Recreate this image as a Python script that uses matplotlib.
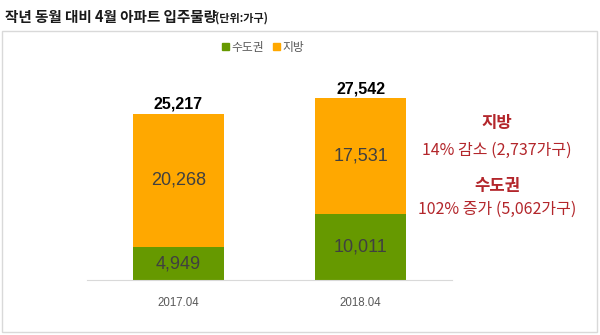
import matplotlib
matplotlib.use("Agg")
import matplotlib.pyplot as plt
from matplotlib.patches import Patch, Rectangle

plt.rcParams['font.family'] = ['Noto Sans CJK KR', 'DejaVu Sans']

categories = ["2017.04", "2018.04"]
metro = [4949, 10011]        # 수도권
regional = [20268, 17531]    # 지방
totals = [25217, 27542]
series_names = ["수도권", "지방"]
title_main = "작년 동월 대비 4월 아파트 입주물량"
title_unit = "(단위:가구)"
notes = [("지방", True), ("14% 감소 (2,737가구)", False),
         ("수도권", True), ("102% 증가 (5,062가구)", False)]

GREEN = "#669900"
ORANGE = "#FFA800"
RED = "#B3262B"
NUM_FONT = ['Liberation Sans', 'DejaVu Sans']

fig = plt.figure(figsize=(6.0, 3.35), dpi=100)
W, H = 600, 335

def fx(px):
    return px / W

def fy(py):
    return 1 - py / H

# outer frame
fig.patches.append(Rectangle((fx(2), fy(332)), fx(595), (330 - 29) / H,
                             transform=fig.transFigure, fill=False,
                             edgecolor="#D9D9D9", linewidth=1.0))

ax = fig.add_axes([fx(87), fy(280), fx(365), 198 / H])
x = list(range(len(categories)))
ax.bar(x, metro, width=0.5, color=GREEN)
ax.bar(x, regional, width=0.5, bottom=metro, color=ORANGE)
ax.set_xlim(-0.5, len(categories) - 0.5)
ax.set_ylim(0, 30000)

for i in x:
    ax.text(i, metro[i] / 2, f"{metro[i]:,}", ha="center", va="center",
            fontsize=13, color="#404040", family=NUM_FONT)
    ax.text(i, metro[i] + regional[i] / 2, f"{regional[i]:,}", ha="center",
            va="center", fontsize=13, color="#404040", family=NUM_FONT)
    ax.text(i, totals[i] + 250, f"{totals[i]:,}", ha="center", va="bottom",
            fontsize=11.5, fontweight="bold", color="black", family=NUM_FONT)

for s in ["top", "right", "left"]:
    ax.spines[s].set_visible(False)
ax.spines["bottom"].set_color("#D9D9D9")
ax.set_yticks([])
ax.set_xticks(x)
ax.set_xticklabels(categories, fontsize=8.3, color="#595959", family=NUM_FONT)
ax.tick_params(axis="x", length=0, pad=12)

handles = [Patch(color=GREEN), Patch(color=ORANGE)]
fig.legend(handles, series_names, loc="center", bbox_to_anchor=(fx(263), fy(47)),
           ncol=2, frameon=False, fontsize=8.5, labelcolor="#595959",
           handlelength=0.6, handleheight=0.6, handletextpad=0.2,
           columnspacing=0.8)

# title
t1 = fig.text(fx(5), fy(17), title_main, ha="left", va="center",
              fontsize=10.5, fontweight="bold", color="#1A1A1A")
fig.canvas.draw()
bb = t1.get_window_extent()
fig.text(bb.x1 / W - 0.003, fy(18), title_unit, ha="left", va="center",
         fontsize=8, fontweight="bold", color="#1A1A1A")

# side notes
note_y = [123, 150, 186, 209]
for (txt, bold), yy in zip(notes, note_y):
    fig.text(fx(497), fy(yy), txt, ha="center", va="center",
             fontsize=12 if bold else 11.5, fontweight="bold" if bold else "normal",
             color=RED)

fig.savefig("out.png", dpi=100)
